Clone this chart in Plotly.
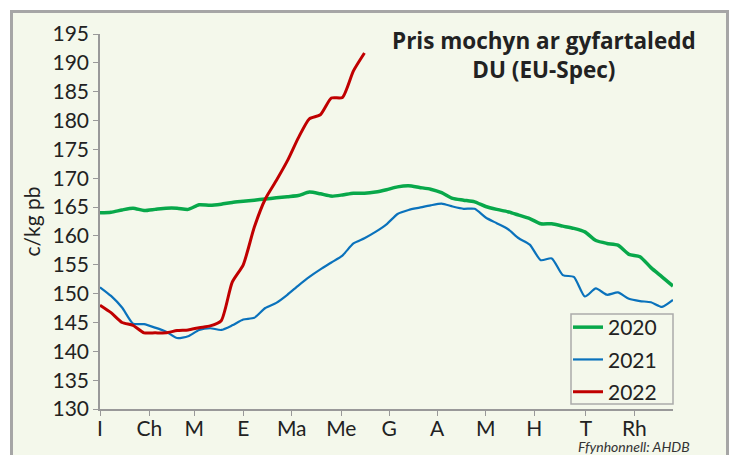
import plotly.graph_objects as go

# ---- data ----
weeks = list(range(0, 53))
price_2020 = [164.0, 164.1, 164.5, 164.8, 164.4, 164.6, 164.8, 164.8, 164.6, 165.4,
              165.3, 165.5, 165.8, 166.0, 166.2, 166.4, 166.6, 166.8, 167.0, 167.6,
              167.3, 166.9, 167.1, 167.4, 167.4, 167.6, 168.0, 168.5, 168.7, 168.4,
              168.1, 167.5, 166.5, 166.2, 165.9, 165.1, 164.6, 164.2, 163.6, 163.0,
              162.1, 162.1, 161.7, 161.3, 160.7, 159.2, 158.7, 158.4, 156.8, 156.4,
              154.5, 152.9, 151.3]
price_2021 = [151.1, 149.6, 147.6, 144.8, 144.7, 144.1, 143.4, 142.3, 142.6, 143.7,
              144.0, 143.7, 144.5, 145.5, 145.8, 147.5, 148.4, 149.8, 151.4, 152.9,
              154.2, 155.4, 156.6, 158.7, 159.6, 160.7, 162.0, 163.8, 164.5, 164.9,
              165.3, 165.6, 165.1, 164.7, 164.7, 163.2, 162.2, 161.2, 159.6, 158.5,
              155.8, 156.1, 153.2, 152.9, 149.5, 150.9, 149.8, 150.2, 149.1, 148.7,
              148.5, 147.7, 148.9]
price_2022 = [148.0, 146.7, 145.0, 144.5, 143.2, 143.2, 143.2, 143.6, 143.7, 144.1,
              144.4, 145.3, 152.0, 155.0, 161.5, 166.4, 169.6, 173.0, 177.0, 180.3,
              181.0, 183.9, 184.0, 188.6, 191.7]
month_labels = ["I", "Ch", "M", "E", "Ma", "Me", "G", "A", "M", "H", "T", "Rh"]
month_ticks = [0, 4.47, 8.56, 13.0, 17.4, 21.9, 26.25, 30.6, 35.0, 39.4, 44.1, 48.5]
y_ticks = list(range(130, 196, 5))

FONT = "Lato"
TFONT = "Open Sans"
BG = "#f4f8eb"

fig = go.Figure()
fig.add_trace(go.Scatter(x=weeks, y=price_2020, name="2020", mode="lines",
                         line=dict(color="#08a84a", width=3.5, shape="spline", smoothing=0.6),
                         legendgroup="a"))
fig.add_trace(go.Scatter(x=weeks, y=price_2021, name="2021", mode="lines",
                         line=dict(color="#0a72bc", width=2.2, shape="spline", smoothing=0.6),
                         legendgroup="b"))
fig.add_trace(go.Scatter(x=weeks[:len(price_2022)], y=price_2022, name="2022", mode="lines",
                         line=dict(color="#c00000", width=3, shape="spline", smoothing=0.6),
                         legendgroup="c"))

W, H = 732, 455
L, R, T, B = 100, 673, 34, 409
pw, ph = R - L, B - T

def px(x):
    return (x - L) / pw

def py(y):
    return (B - y) / ph

fig.update_layout(
    width=W, height=H,
    margin=dict(l=L, r=W - R, t=T, b=H - B, pad=0, autoexpand=False),
    paper_bgcolor="white",
    plot_bgcolor="rgba(0,0,0,0)",
    font=dict(family=FONT, color="#222222", size=21),
    showlegend=True,
    legend=dict(x=px(568), y=py(307), xanchor="left", yanchor="top",
                bgcolor="rgba(0,0,0,0)", borderwidth=0,
                font=dict(size=21, family=FONT, color="#222222"),
                tracegroupgap=2, itemwidth=30),
    shapes=[dict(type="rect", xref="paper", yref="paper", layer="below",
                 x0=px(11.5), x1=px(727.5), y0=py(480), y1=py(11.5),
                 fillcolor=BG, line=dict(color="#a6a6a6", width=3)),
            dict(type="rect", xref="paper", yref="paper", layer="above",
                 x0=px(571), x1=px(673), y0=py(404), y1=py(314),
                 fillcolor="rgba(0,0,0,0)", line=dict(color="#aaaaaa", width=1.5))],
    annotations=[
        dict(text="<b>Pris mochyn ar gyfartaledd<br>DU (EU-Spec)</b>", xref="paper", yref="paper",
             x=px(544), y=py(23), xanchor="center", yanchor="top", showarrow=False,
             align="center", font=dict(size=22.5, family=TFONT, color="#222222")),
        dict(text="<i>Ffynhonnell: AHDB</i>", xref="paper", yref="paper",
             x=px(692), y=py(446), xanchor="right", yanchor="middle", showarrow=False,
             font=dict(size=14, family=FONT, color="#333333")),
    ],
)
fig.update_xaxes(range=[0, 52], tickvals=month_ticks, ticktext=month_labels, automargin=False,
                 showgrid=False, zeroline=False, showline=True, linecolor="#999999", linewidth=1.5,
                 ticks="outside", ticklen=5, tickcolor="#999999", ticklabelstandoff=-5,
                 tickfont=dict(size=21, family=FONT, color="#222222"))
fig.update_yaxes(range=[130, 195], tickvals=y_ticks, automargin=False,
                 showgrid=False, zeroline=False, showline=True, linecolor="#999999", linewidth=1.5,
                 ticks="outside", ticklen=5, tickcolor="#999999",
                 tickfont=dict(size=21, family=FONT, color="#222222"),
                 title=dict(text="c/kg pb", font=dict(size=21, family=FONT, color="#222222"), standoff=6))

fig.write_html("out.html", config={"displayModeBar": False},
               post_script="document.body.style.margin='0';document.body.style.overflow='hidden';")
